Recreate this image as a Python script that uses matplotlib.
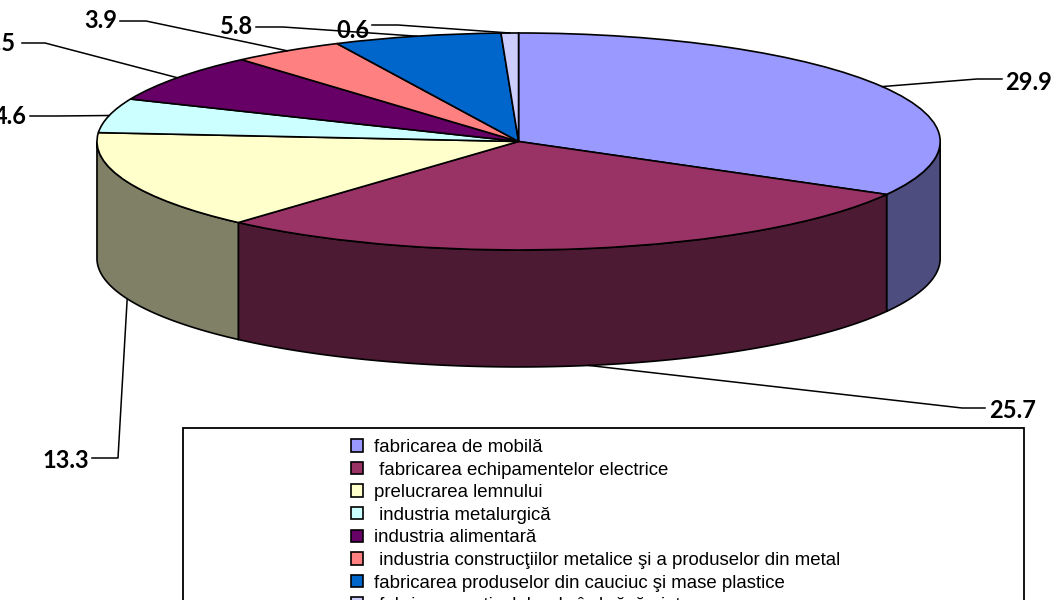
import numpy as np
import matplotlib
matplotlib.use("Agg")
import matplotlib.pyplot as plt
from matplotlib.patches import Rectangle

# legend labels (keep the leading spaces of the original)
categories = [
    "fabricarea de mobilă",
    " fabricarea echipamentelor electrice",
    "prelucrarea lemnului",
    " industria metalurgică",
    "industria alimentară",
    " industria construcţiilor metalice şi a produselor din metal",
    "fabricarea produselor din cauciuc şi mase plastice",
    " fabricarea articolelor de îmbrăcăminte",
]
values = [29.9, 25.7, 13.3, 4.6, 6.5, 3.9, 5.8, 0.6]
value_labels = ["29.9", "25.7", "13.3", "4.6", "6.5", "3.9", "5.8", "0.6"]

colors = ["#9999FF", "#993366", "#FFFFCC", "#CCFFFF", "#660066", "#FF8080", "#0066CC", "#CCCCFF"]

# label layout in image pixels (from top-left): elbow x, elbow y, line end x, text x, text y, align
label_layout = [
    (977, 79, 1002, 1005, 82, "left"),
    (962, 408, 985, 989, 410, "left"),
    (118, 458, 92, 89, 460, "right"),
    (57, 116, 30, 27, 117, "right"),
    (45, 43, 22, 15, 44, "right"),
    (146, 21, 120, 117, 20, "right"),
    (283, 27, 256, 253, 27, "right"),
    (398, 25, 372, 369, 30, "right"),
]
# which slices get the leader on the bottom of the side wall
on_side = [False, True, True, False, False, False, False, False]

W, H = 1054, 600
depth = 1.078  # thickness of the 3d pie, in radius units

fig = plt.figure(figsize=(W / 100, H / 100), dpi=100)
ax = fig.add_axes([0, 0, 1, 1])

wedges, _ = ax.pie(values, colors=colors, startangle=90, counterclock=False, radius=1,
                   wedgeprops=dict(edgecolor="black", linewidth=1.2, zorder=3))
ax.set_aspect("auto")
ax.set_xlim(-1.230, 1.270)
ax.set_ylim(-4.226, 1.304)
ax.axis("off")

# side walls of the front half
frac = np.array(values) / sum(values)
ends = 90 - 360 * np.cumsum(frac)
starts = ends + 360 * frac
for i in range(len(values)):
    lo = max(ends[i], -180)
    hi = min(starts[i], 0)
    if lo >= hi:
        continue
    t = np.radians(np.linspace(lo, hi, 120))
    xs = np.concatenate([np.cos(t), np.cos(t[::-1])])
    ys = np.concatenate([np.sin(t), np.sin(t[::-1]) - depth])
    rgb = np.array(matplotlib.colors.to_rgb(colors[i])) * 0.5
    ax.fill(xs, ys, facecolor=rgb, edgecolor="black", linewidth=1.2, zorder=2)

# leader lines and value labels
inv = ax.transData.inverted()
def px(x, y):
    return inv.transform((x, H - y))

for i, (ex, ey, lx, tx, ty, ha) in enumerate(label_layout):
    mid = np.radians((starts[i] + ends[i]) / 2)
    ax_x, ax_y = np.cos(mid), np.sin(mid)
    if on_side[i]:
        ax_y -= depth
    p1 = px(ex, ey)
    p2 = px(lx, ey)
    ax.plot([ax_x, p1[0], p2[0]], [ax_y, p1[1], p2[1]], color="black", lw=1.1,
            clip_on=False, zorder=4)
    tp = px(tx, ty)
    ax.text(tp[0], tp[1], value_labels[i], ha=ha, va="center", fontsize=17,
            fontweight="bold", family=["Lato", "DejaVu Sans"], zorder=5)

# legend with its box running off the bottom edge
fig.add_artist(Rectangle((183 / W, -0.2), (1024 - 183) / W, 0.2 + 1 - 428 / H,
                         transform=fig.transFigure, fill=False, edgecolor="black", lw=1.3))
fig.legend(wedges, categories, loc="upper left", bbox_to_anchor=(351 / W, 1 - 439 / H),
           frameon=False, borderpad=0, borderaxespad=0, labelspacing=0.3,
           handlelength=0.65, handleheight=0.65, handletextpad=0.6,
           prop=dict(family=["Liberation Sans Narrow", "Liberation Sans"], size=13.4))

fig.savefig("out.png", dpi=100)
